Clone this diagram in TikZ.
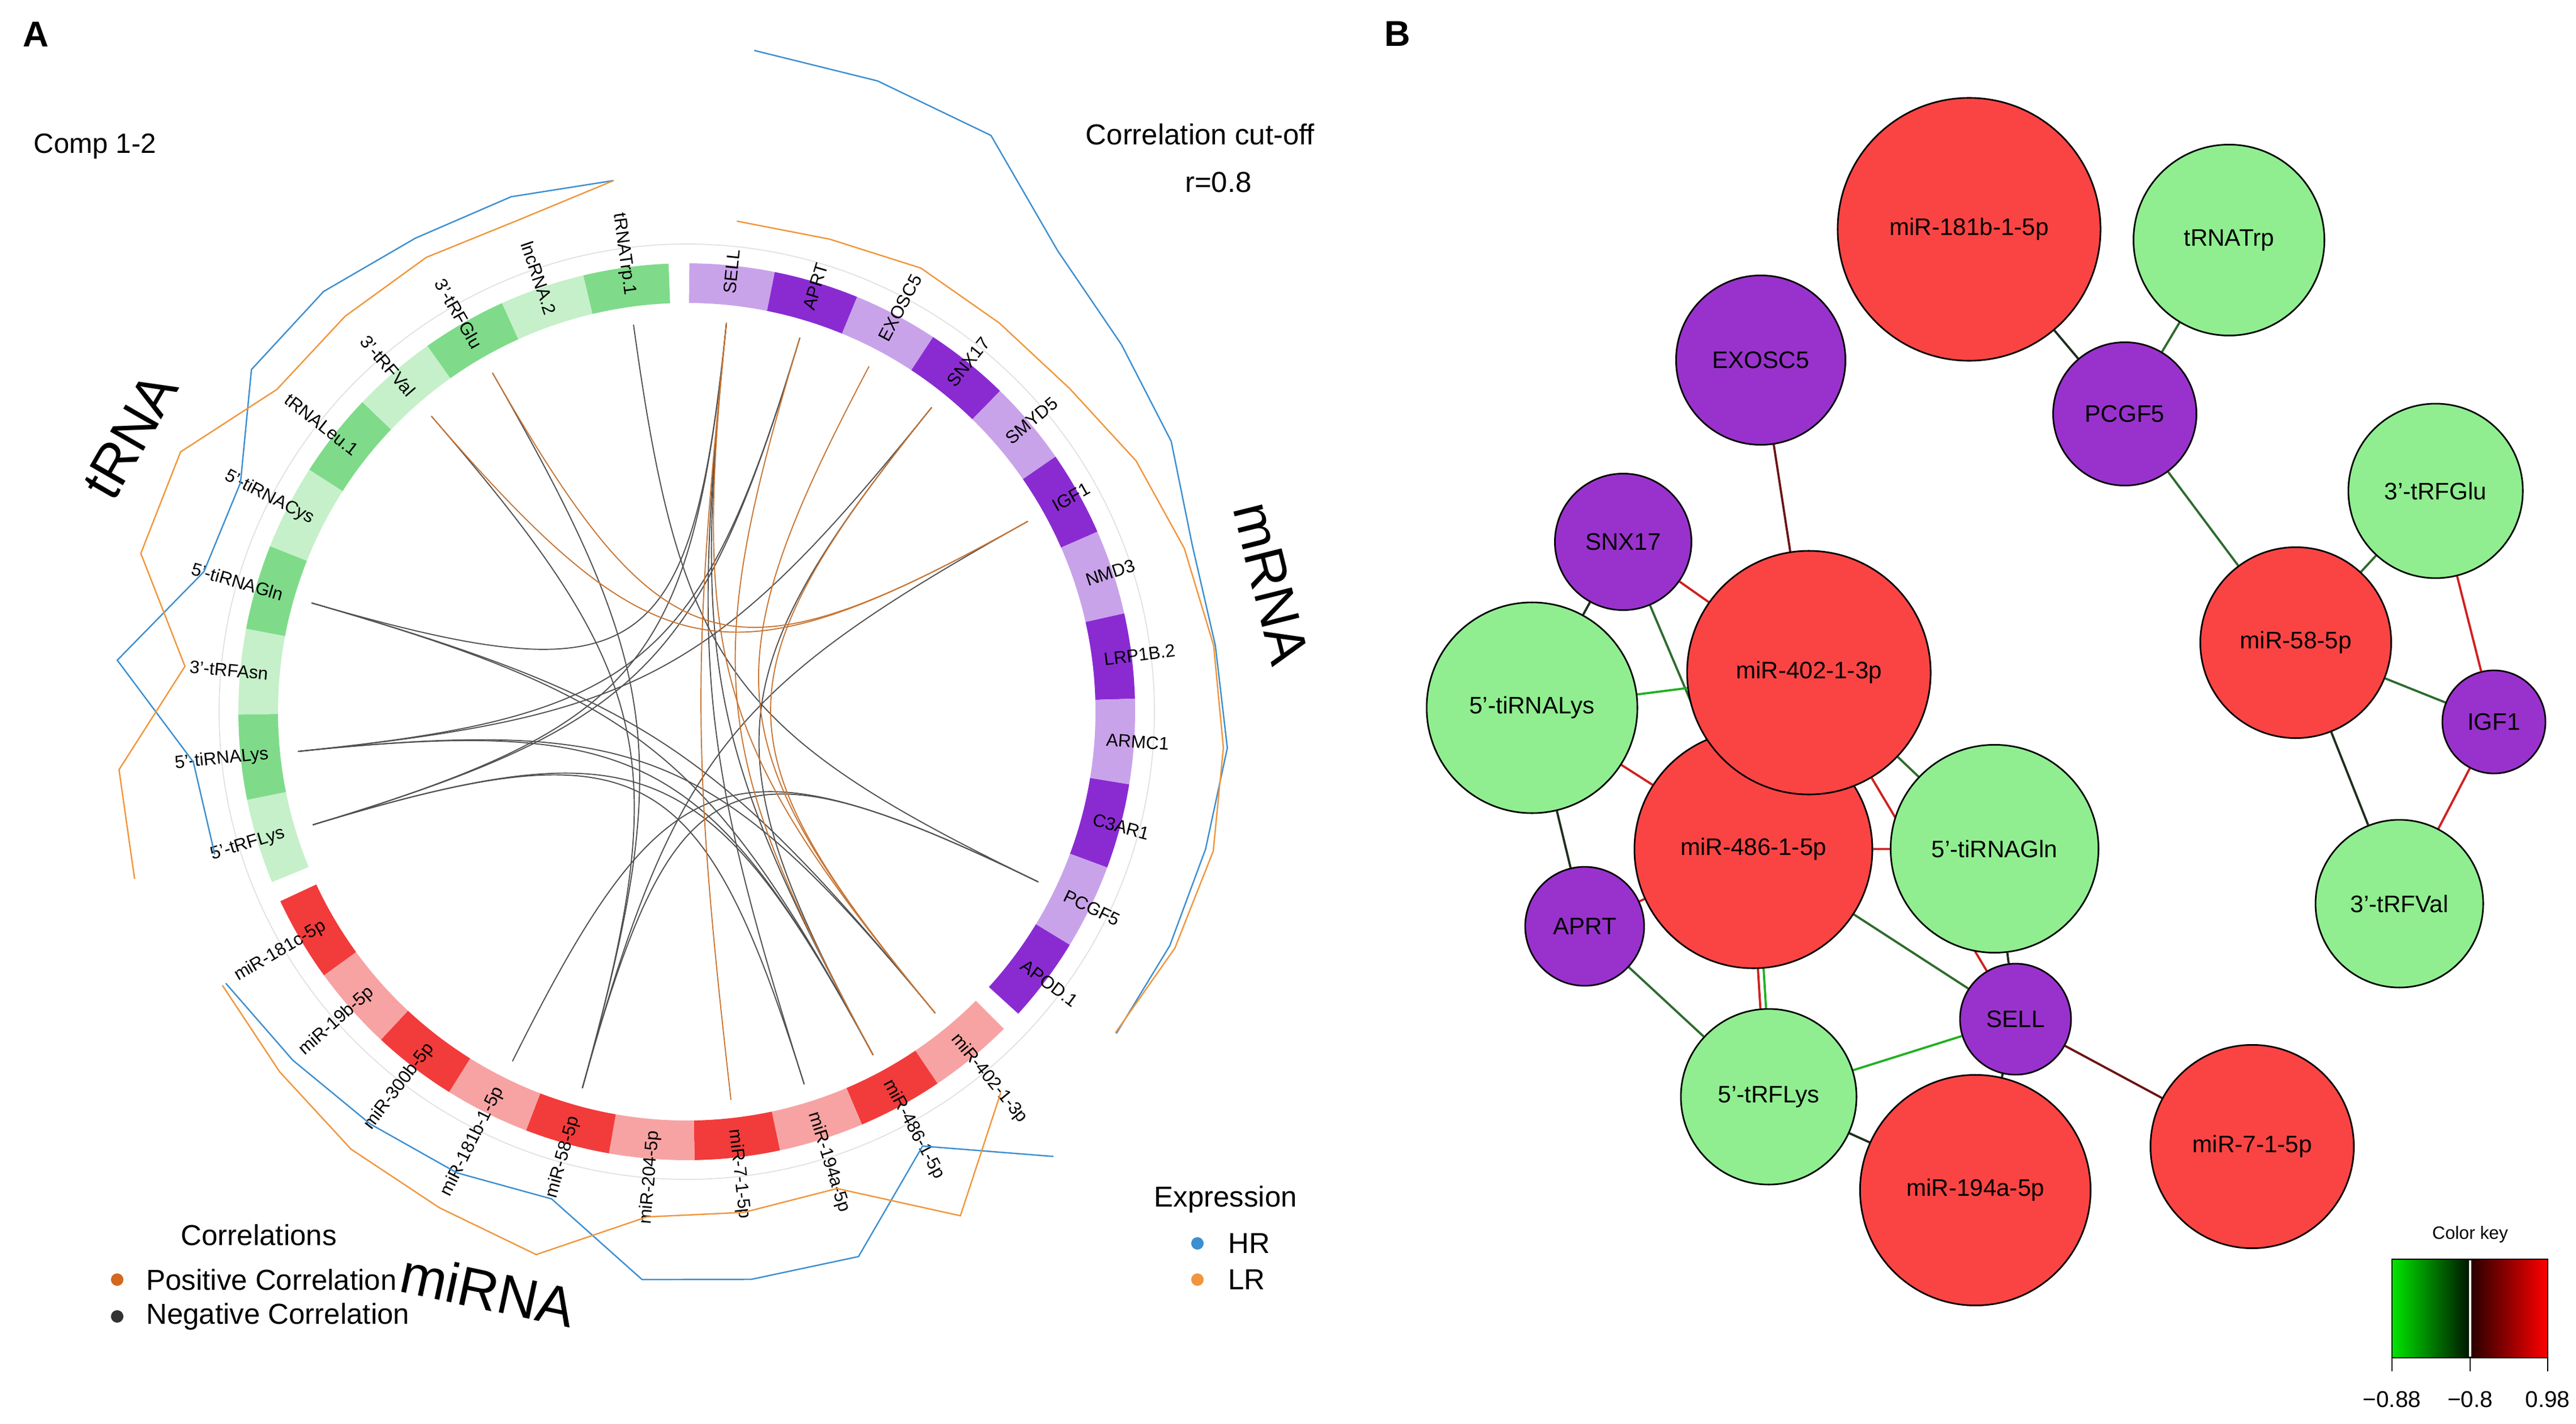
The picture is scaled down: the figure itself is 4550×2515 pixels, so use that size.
\documentclass[tikz,border=0pt]{standalone}
\usepackage{fontspec}
\setmainfont{Liberation Sans}
\usetikzlibrary{calc,positioning,backgrounds}

\definecolor{tdark}{HTML}{7FDB8A}
\definecolor{tlight}{HTML}{C6F0CA}
\definecolor{mdark}{HTML}{8A2BD2}
\definecolor{mlight}{HTML}{C9A3EA}
\definecolor{rdark}{HTML}{F23B3B}
\definecolor{rlight}{HTML}{F7A3A3}
\definecolor{hrblue}{HTML}{3C8FD0}
\definecolor{lrorange}{HTML}{F0963C}
\definecolor{chordgray}{HTML}{505050}
\definecolor{chordorange}{HTML}{C87533}
\definecolor{posdot}{HTML}{D2691E}
\definecolor{negdot}{HTML}{333333}
\definecolor{nred}{HTML}{FA4444}
\definecolor{ngreen}{HTML}{90EE90}
\definecolor{npurple}{HTML}{9932CC}
\definecolor{edark}{HTML}{1E2E1E}
\definecolor{edgreen}{HTML}{2E6B2E}
\definecolor{egreen}{HTML}{22B022}
\definecolor{ered}{HTML}{D02020}
\definecolor{edred}{HTML}{6B1414}

\begin{document}
\begin{tikzpicture}[x=0.01cm,y=-0.01cm,
  seglab/.style={font=\fontsize{9}{10}\selectfont,inner sep=0pt},
  chordneg/.style={draw=chordgray,line width=0.55pt},
  chordpos/.style={draw=chordorange,line width=0.55pt},
  hrline/.style={draw=hrblue,line width=0.7pt},
  lrline/.style={draw=lrorange,line width=0.7pt},
  grouplab/.style={font=\fontsize{28}{30}\selectfont},
  bigtext/.style={font=\fontsize{14.5}{16}\selectfont},
  legtext/.style={bigtext,anchor=west,inner sep=0pt},
  dot/.style={circle,inner sep=0pt,minimum size=0.22cm},
  netnode/.style={circle,draw=black,line width=0.8pt,font=\fontsize{12}{14}\selectfont,inner sep=0pt},
  mirna/.style={netnode,fill=nred},
  trna/.style={netnode,fill=ngreen},
  mrna/.style={netnode,fill=npurple},
  edge/.style={line width=1.1pt},
]
\useasboundingbox (0,0) rectangle (4550,2515);

% panel letters
\node[font=\fontsize{18}{20}\selectfont\bfseries] (la) at (63,61) {A};
\node[font=\fontsize{18}{20}\selectfont\bfseries] (lb) at (2468,60) {B};

% ---------- A: circos plot ----------
\begin{scope}[shift={(1213,1257)},x=0.01cm,y=0.01cm]
\coordinate (O) at (0,0);
\draw[black!12,line width=0.5pt] (O) circle[radius=826];

% mRNA sectors
\foreach \id/\lab/\hr/\lr [count=\i from 0] in {sell/SELL/1174/871, aprt/APRT/1164/872,
  exosc/EXOSC5/1151/886, snx/SNX17/1045/881, smyd/SMYD5/1005/885, igf/IGF1/980/909,
  nmd/NMD3/940/925, lrp/LRP1B.2/941/938, armc/ARMC1/957/950, ctar/C3AR1/948/962,
  pcgf/PCGF5/948/958, apod/APOD.1/948/946}{
  \pgfmathsetmacro\sa{89.67-11*\i}
  \pgfmathsetmacro\ea{\sa-11}
  \pgfmathsetmacro\ma{\sa-5.5}
  \ifodd\i \def\segc{mdark}\else\def\segc{mlight}\fi
  \fill[fill=\segc] (\sa:722) arc[start angle=\sa,end angle=\ea,radius=722]
    -- (\ea:792) arc[start angle=\ea,end angle=\sa,radius=792] -- cycle;
  \node[seglab,anchor=west,rotate=\ma] (lab-\id) at (\ma:742) {\lab};
  \coordinate (\id) at (\ma:690);
  \coordinate (mh\i) at (\ma:\hr);
  \coordinate (ml\i) at (\ma:\lr);
}

% tRNA sectors
\foreach \id/\lab/\hr/\lr [count=\i from 0] in {trflys/5'-tRFLys/871/1019,
  tilys/5'-tiRNALys/876/1008, tasn/3'-tRFAsn/1010/890, tigln/5'-tiRNAGln/888/1004,
  ticys/5'-tiRNACys/886/1005, tleu/tRNALeu.1/978/921, tval/3'-tRFVal/981/923,
  tglu/3'-tRFGlu/964/925, lnc/lncRNA.2/961/918, ttrp/tRNATrp.1/947/947}{
  \pgfmathsetmacro\sa{202.33-11*\i}
  \pgfmathsetmacro\ea{\sa-11}
  \pgfmathsetmacro\ma{\sa-5.5}
  \pgfmathsetmacro\ra{\ma-180}
  \ifodd\i \def\segc{tdark}\else\def\segc{tlight}\fi
  \fill[fill=\segc] (\sa:722) arc[start angle=\sa,end angle=\ea,radius=722]
    -- (\ea:792) arc[start angle=\ea,end angle=\sa,radius=792] -- cycle;
  \node[seglab,anchor=east,rotate=\ra] (lab-\id) at (\ma:742) {\lab};
  \coordinate (\id) at (\ma:690);
  \coordinate (th\i) at (\ma:\hr);
  \coordinate (tl\i) at (\ma:\lr);
}

% miRNA sectors
\foreach \id/\lab/\hr/\lr [count=\i from 0] in {m402/miR-402-1-3p/1018/872,
  m486/miR-486-1-5p/873/1013, m194/miR-194a-5p/1009/883, m7/miR-7-1-5p/1009/890,
  m204/miR-204-5p/1006/895, m58/miR-58-5p/893/995, m181b/miR-181b-1-5p/910/979,
  m30/miR-300b-5p/918/974, m19/miR-19b-5p/929/960, m181c/miR-181c-5p/945/952}{
  \pgfmathsetmacro\sa{-45-11*\i}
  \pgfmathsetmacro\ea{\sa-11}
  \pgfmathsetmacro\ma{\sa-5.5}
  \pgfmathtruncatemacro\rside{\ma>-90}
  \ifnum\rside=1 \def\lanc{west}\edef\lrot{\ma}\else\def\lanc{east}\pgfmathsetmacro\lrot{\ma+180}\fi
  \ifodd\i \def\segc{rdark}\else\def\segc{rlight}\fi
  \fill[fill=\segc] (\sa:722) arc[start angle=\sa,end angle=\ea,radius=722]
    -- (\ea:792) arc[start angle=\ea,end angle=\sa,radius=792] -- cycle;
  \node[seglab,anchor=\lanc,rotate=\lrot] (lab-\id) at (\ma:742) {\lab};
  \coordinate (\id) at (\ma:690);
  \coordinate (rh\i) at (\ma:\hr);
  \coordinate (rl\i) at (\ma:\lr);
}

% correlation links
\foreach \a/\b in {m181b/pcgf, ttrp/pcgf, pcgf/m58, m58/tglu, m58/igf, m58/tval,
  snx/tilys, snx/m486, tilys/m402, tilys/m486, tilys/aprt, m402/tigln, m486/tigln,
  m486/sell, m486/trflys, aprt/trflys, trflys/sell, trflys/m194, tigln/sell, sell/m194}
  \draw[chordneg] (\a) .. controls ($(O)!0.12!(\a)$) and ($(O)!0.12!(\b)$) .. (\b);
\foreach \a/\b in {tglu/igf, igf/tval, exosc/m402, snx/m402, aprt/m486, m402/sell, sell/m7}
  \draw[chordpos] (\a) .. controls ($(O)!0.12!(\a)$) and ($(O)!0.12!(\b)$) .. (\b);

% expression tracks
\draw[hrline] (mh0) \foreach \j in {1,...,11}{-- (mh\j)};
\draw[lrline] (ml0) \foreach \j in {1,...,11}{-- (ml\j)};
\draw[hrline] (th0) \foreach \j in {1,...,9}{-- (th\j)};
\draw[lrline] (tl0) \foreach \j in {1,...,9}{-- (tl\j)};
\draw[hrline] (rh0) \foreach \j in {1,...,9}{-- (rh\j)};
\draw[lrline] (rl0) \foreach \j in {1,...,9}{-- (rl\j)};
\end{scope}

\node[grouplab,rotate=60] (gt) at (230,770) {tRNA};
\node[grouplab,rotate=-76] (gm) at (2245,1030) {mRNA};
\node[grouplab,rotate=-12] (gmi) at (862,2278) {miRNA};

\node[font=\fontsize{14}{16}\selectfont] (comp) at (168,258) {Comp 1-2};
\node[bigtext] (cut) at (2120,237) {Correlation cut-off};
\node[bigtext] (rval) at (2152,322) {r=0.8};

% legends
\node[legtext] (corr) at (319,2181) {Correlations};
\node[dot,fill=posdot] (dpos) at (207,2260) {};
\node[legtext,right=0.39cm of dpos] (tpos) {Positive Correlation};
\node[dot,fill=negdot] (dneg) at (207,2325) {};
\node[legtext,right=0.39cm of dneg] (tneg) {Negative Correlation};
\node[legtext] (expr) at (2038,2118) {Expression};
\node[dot,fill=hrblue] (dhr) at (2115,2196) {};
\node[legtext,right=0.42cm of dhr] (thr) {HR};
\node[dot,fill=lrorange] (dlr) at (2115,2260) {};
\node[legtext,right=0.42cm of dlr] (tlr) {LR};

% ---------- B: network ----------
\node[mirna,minimum size=4.64cm] (n181b) at (3478,405) {miR-181b-1-5p};
\node[trna,minimum size=3.37cm] (ntrp) at (3937,424) {tRNATrp};
\node[mrna,minimum size=2.99cm] (nexosc) at (3110,636) {EXOSC5};
\node[mrna,minimum size=2.53cm] (npcgf) at (3753,731) {PCGF5};
\node[trna,minimum size=3.08cm] (nglu) at (4302,867) {3'-tRFGlu};
\node[mrna,minimum size=2.41cm] (nsnx) at (2867,957) {SNX17};
\node[mirna,minimum size=3.37cm] (n58) at (4055,1135) {miR-58-5p};
\node[trna,minimum size=3.72cm] (ntilys) at (2706,1250) {5'-tiRNALys};
\node[mrna,minimum size=1.82cm] (nigf) at (4405,1275) {IGF1};
\node[mirna,minimum size=4.2cm] (n486) at (3097,1500) {miR-486-1-5p};
\node[mirna,minimum size=4.3cm] (n402) at (3195,1188) {miR-402-1-3p};
\node[trna,minimum size=3.67cm] (ntigln) at (3523,1499) {5'-tiRNAGln};
\node[mrna,minimum size=2.1cm] (naprt) at (2799,1636) {APRT};
\node[trna,minimum size=2.96cm] (nval) at (4238,1596) {3'-tRFVal};
\node[mrna,minimum size=1.96cm] (nsell) at (3560,1800) {SELL};
\node[trna,minimum size=3.1cm] (ntrflys) at (3124,1937) {5'-tRFLys};
\node[mirna,minimum size=3.59cm] (n7) at (3978,2025) {miR-7-1-5p};
\node[mirna,minimum size=4.07cm] (n194) at (3489,2102) {miR-194a-5p};

\begin{scope}[on background layer]
\draw[edge,edark] (n181b) -- (npcgf);
\draw[edge,edgreen] (ntrp) -- (npcgf);
\draw[edge,edgreen] (npcgf) -- (n58);
\draw[edge,edgreen] (n58) -- (nglu);
\draw[edge,edgreen] (n58) -- (nigf);
\draw[edge,edark] (n58) -- (nval);
\draw[edge,ered] (nglu) -- (nigf);
\draw[edge,ered] (nigf) -- (nval);
\draw[edge,edred] (nexosc) -- (n402);
\draw[edge,ered] (nsnx) -- (n402);
\draw[edge,edark] (nsnx) -- (ntilys);
\draw[edge,edgreen] (nsnx) -- (n486);
\draw[edge,egreen] (ntilys) -- (n402);
\draw[edge,ered] (ntilys) -- (n486);
\draw[edge,edark] (ntilys) -- (naprt);
\draw[edge,ered] (naprt) -- (n486);
\draw[edge,edgreen] (n402) -- (ntigln);
\draw[edge,ered] (n402) -- (nsell);
\draw[edge,ered] (n486) -- (ntigln);
\draw[edge,edgreen] (n486) -- (nsell);
\draw[edge,ered,transform canvas={xshift=-0.05cm}] (n486) -- (ntrflys);
\draw[edge,egreen,transform canvas={xshift=0.05cm}] (n486) -- (ntrflys);
\draw[edge,edgreen] (naprt) -- (ntrflys);
\draw[edge,egreen] (ntrflys) -- (nsell);
\draw[edge,edark] (ntrflys) -- (n194);
\draw[edge,edark] (ntigln) -- (nsell);
\draw[edge,edark] (nsell) -- (n194);
\draw[edge,edred] (nsell) -- (n7);
\end{scope}

% color key
\node[font=\fontsize{9}{10}\selectfont] (ckey) at (4363,2180) {Color key};
\shade[left color=green!90!black,right color=black!92!green] (4225,2224) rectangle (4363,2398);
\shade[left color=black!85!red,right color=red] (4363,2224) rectangle (4500,2398);
\draw[white,line width=1.2pt] (4363,2226) -- (4363,2396);
\draw[black,line width=0.8pt] (4225,2224) rectangle (4500,2398);
\foreach \x/\v in {4225/−0.88, 4363/−0.8, 4500/0.98}{
  \draw[black,line width=0.8pt] (\x,2398) -- (\x,2422);
  \node[font=\fontsize{11.5}{13}\selectfont] (key\x) at (\x,2472) {\v};
}
\end{tikzpicture}
\end{document}
